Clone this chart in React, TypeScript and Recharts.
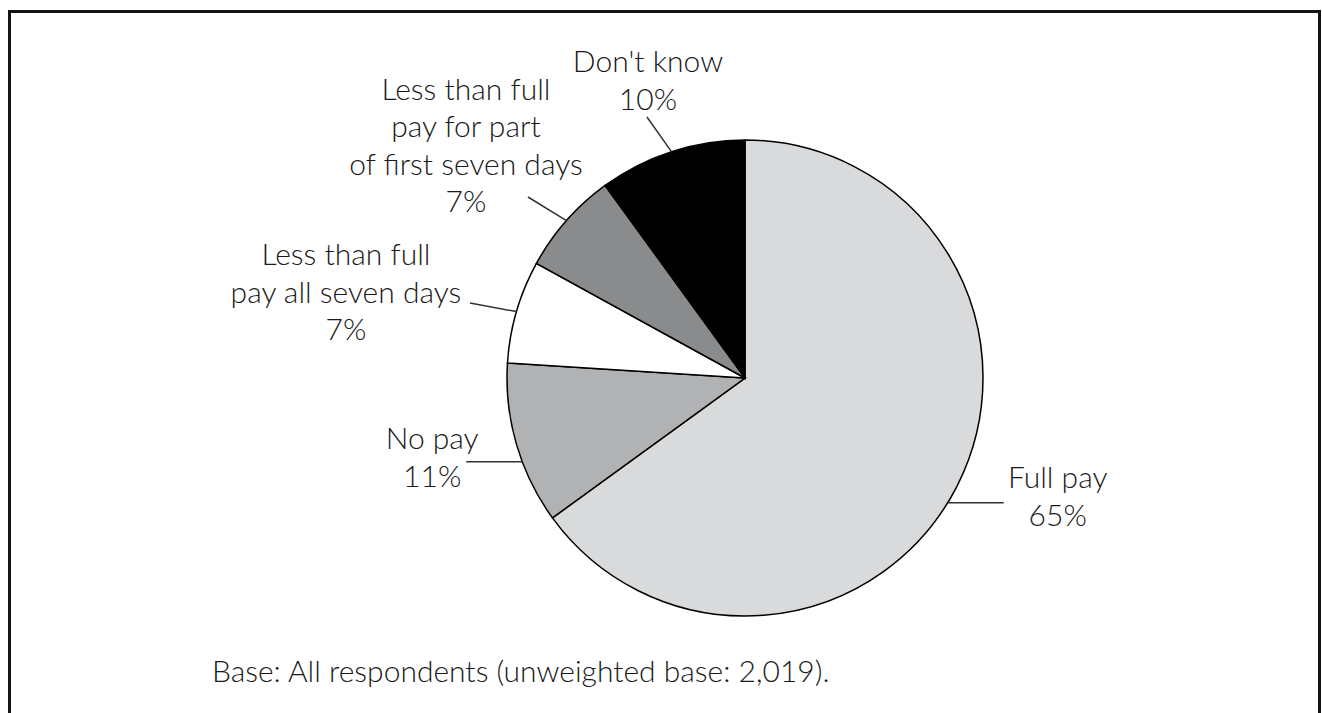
import React from "react";
import { PieChart, Pie, Cell } from "recharts";

// ---- data ----
const categories = [
  "Full pay",
  "No pay",
  "Less than full pay all seven days",
  "Less than full pay for part of first seven days",
  "Don't know",
];
const values = [65, 11, 7, 7, 10];
const labelLines = [
  ["Full pay"],
  ["No pay"],
  ["Less than full", "pay all seven days"],
  ["Less than full", "pay for part", "of first seven days"],
  ["Don't know"],
];
const colors = ["#d9dadc", "#b1b2b4", "#ffffff", "#8a8b8d", "#000000"];
const baseNote = "Base: All respondents (unweighted base: 2,019).";

// ---- label layout (relative to the pie geometry) ----
const labelLayout = [
  { angleDelta: -4.6, dx: 56, dy: 0, tx: 54, ty: 23 },
  { angleDelta: 4.4, dx: -56, dy: 0, tx: -34, ty: 25 },
  { angleDelta: 0, dx: -46.5, dy: -8.6, tx: -124, ty: 37 },
  { angleDelta: 0, dx: -38.5, dy: -23.6, tx: -62, ty: 15 },
  { angleDelta: 0, dx: -24.5, dy: -34.7, tx: 1, ty: -7 },
];

const FONT = "Lato, 'Open Sans', sans-serif";
const FONT_SIZE = 30;
const FONT_WEIGHT = 300;
const LINE_H = 37.5;

const data = categories.map((name, i) => ({ name, value: values[i] }));

const RAD = Math.PI / 180;

const renderLabel = (props: any) => {
  const { cx, cy, midAngle, outerRadius, index, value } = props;
  const lay = labelLayout[index];
  const ang = midAngle + lay.angleDelta;
  const sx = cx + outerRadius * Math.cos(-ang * RAD);
  const sy = cy + outerRadius * Math.sin(-ang * RAD);
  const ex = sx + lay.dx;
  const ey = sy + lay.dy;
  const lines = [...labelLines[index], `${value}%`];
  const lastBase = ey + lay.ty;
  const firstBase = lastBase - (lines.length - 1) * LINE_H;
  const tx = ex + lay.tx;
  return (
    <g key={`lbl-${index}`}>
      <line x1={sx} y1={sy} x2={ex} y2={ey} stroke="#333" strokeWidth={1.5} />
      <text
        x={tx}
        y={firstBase}
        textAnchor="middle"
        fontFamily={FONT}
        fontSize={FONT_SIZE}
        fontWeight={FONT_WEIGHT}
        fill="#1a1a1a"
      >
        {lines.map((l, k) => (
          <tspan key={k} x={tx} y={firstBase + k * LINE_H}>
            {l}
          </tspan>
        ))}
      </text>
    </g>
  );
};

export default function App() {
  return (
    <div
      style={{
        position: "relative",
        width: 1322,
        height: 713,
        overflow: "hidden",
        background: "#fff",
      }}
    >
      <style>{`body{margin:0;overflow:hidden;}`}</style>
      <div
        style={{
          position: "absolute",
          left: 8,
          top: 10,
          width: 1313,
          height: 800,
          boxSizing: "border-box",
          borderLeft: "3px solid #141414",
          borderTop: "3px solid #141414",
          borderRight: "3px solid #141414",
        }}
      />
      <div style={{ position: "absolute", left: 0, top: 0 }}>
        <PieChart
          width={1322}
          height={713}
          margin={{ top: 0, right: 0, bottom: 0, left: 0 }}
        >
          <Pie
            data={data}
            dataKey="value"
            nameKey="name"
            cx={745}
            cy={378}
            outerRadius={238}
            startAngle={90}
            endAngle={-270}
            stroke="#000"
            strokeWidth={1.5}
            label={renderLabel}
            labelLine={false}
            isAnimationActive={false}
          >
            {data.map((d, i) => (
              <Cell key={d.name} fill={colors[i]} />
            ))}
          </Pie>
        </PieChart>
      </div>
      <svg
        width={1322}
        height={713}
        style={{ position: "absolute", left: 0, top: 0, pointerEvents: "none" }}
      >
        <text
          x={212}
          y={682}
          fontFamily={FONT}
          fontSize={FONT_SIZE}
          fontWeight={FONT_WEIGHT}
          fill="#1a1a1a"
        >
          {baseNote}
        </text>
      </svg>
    </div>
  );
}
